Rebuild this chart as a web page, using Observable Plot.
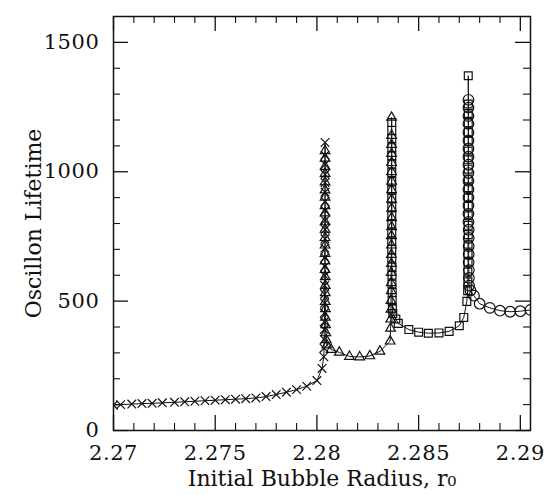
<!DOCTYPE html>
<html>
<head>
<meta charset="utf-8">
<script src="https://cdn.jsdelivr.net/npm/d3@7"></script>
<script src="https://cdn.jsdelivr.net/npm/@observablehq/plot@0.6"></script>
<style>
  html, body { margin: 0; padding: 0; background: #fff; }
  svg g[aria-label="x-title"] text { letter-spacing: 3.9px; }
  svg g[aria-label="y-title"] text { letter-spacing: 2.2px; }
  svg g[aria-label="x-axis tick label"] text,
  svg g[aria-label="y-axis tick label"] text { letter-spacing: 0.6px; }
</style>
</head>
<body>
<div id="chart"></div>
<script>
// Oscillon lifetime versus initial bubble radius r0.
// Four runs, each drawn with its own marker; one thin line joins all points in order.

// × run: below the first resonance
const crossR = [2.2700, 2.27035, 2.2709, 2.2714, 2.2719, 2.2724, 2.2730, 2.2735, 2.2740, 2.2745,
  2.2750, 2.2755, 2.2760, 2.2765, 2.2770, 2.2775, 2.2780, 2.2785, 2.2790, 2.2795,
  2.2800, 2.28025, 2.28034, 2.28035, 2.28036, 2.28036, 2.28037, 2.28037, 2.28038, 2.28038,
  2.28038, 2.28039, 2.28039, 2.28039, 2.28039, 2.2804, 2.2804, 2.2804, 2.2804, 2.2804,
  2.2804, 2.2804, 2.2804, 2.2804, 2.2804, 2.2804];
const crossLife = [98, 100, 102, 104, 105, 107, 109, 111, 113, 115,
  117, 119, 121, 123, 126, 131, 139, 148, 158, 171,
  193, 240, 285, 318, 352, 390, 421, 455, 492, 527,
  560, 598, 634, 668, 705, 741, 777, 812, 850, 885,
  921, 958, 990, 1028, 1064, 1113];

// △ run: between the first and second resonances
const triR = [2.2804, 2.2804, 2.2804, 2.2804, 2.2804, 2.2804, 2.2804, 2.2804, 2.2804, 2.2804,
  2.2804, 2.2804, 2.2804, 2.2804, 2.2804, 2.2804, 2.28041, 2.28041, 2.28041, 2.28041,
  2.28042, 2.28042, 2.28043, 2.28044, 2.28046, 2.28049, 2.2807, 2.2811, 2.2816, 2.2821,
  2.2826, 2.2831, 2.2836, 2.28362, 2.28363, 2.28364, 2.28364, 2.28365, 2.28365, 2.28365,
  2.28366, 2.28366, 2.28366, 2.28366, 2.28367, 2.28367, 2.28367, 2.28367, 2.28367, 2.28367,
  2.28367, 2.28367, 2.28367, 2.28367, 2.28367, 2.28367];
const triLife = [1081, 1052, 1020, 993, 960, 929, 901, 868, 840, 806,
  777, 745, 716, 684, 655, 622, 594, 560, 532, 498,
  470, 437, 408, 377, 350, 330, 313, 302, 286, 284,
  288, 306, 345, 395, 430, 468, 502, 540, 571, 610,
  645, 680, 716, 752, 787, 822, 858, 893, 930, 963,
  1000, 1035, 1070, 1105, 1140, 1210];

// □ run: between the second and third resonances
const sqR = [2.28368, 2.28368, 2.28368, 2.28368, 2.28368, 2.28368, 2.28368, 2.28368, 2.28368, 2.28368,
  2.28368, 2.28368, 2.28368, 2.28368, 2.28368, 2.28368, 2.28368, 2.28369, 2.28369, 2.28369,
  2.2837, 2.2837, 2.28371, 2.28373, 2.28388, 2.2840, 2.28452, 2.2850, 2.28548, 2.2860,
  2.2865, 2.2870, 2.28722, 2.28737, 2.28741, 2.28742, 2.28742, 2.28743, 2.28743, 2.28743,
  2.28744, 2.28744, 2.28744, 2.28744, 2.28744, 2.28744, 2.28744, 2.28744, 2.28744, 2.28744,
  2.28744, 2.28744, 2.28744, 2.28744, 2.28744, 2.28744];
const sqLife = [1190, 1160, 1128, 1093, 1062, 1030, 996, 962, 930, 897,
  864, 830, 798, 764, 732, 700, 666, 632, 600, 566,
  534, 502, 470, 452, 431, 414, 390, 380, 376, 377,
  383, 405, 437, 499, 540, 575, 612, 650, 684, 720,
  757, 793, 830, 866, 900, 938, 972, 1010, 1046, 1080,
  1118, 1152, 1190, 1225, 1262, 1371];

// ○ run: above the third resonance
const circR = [2.28745, 2.28745, 2.28745, 2.28745, 2.28745, 2.28745, 2.28745, 2.28745, 2.28745, 2.28745,
  2.28745, 2.28745, 2.28745, 2.28745, 2.28745, 2.28745, 2.28746, 2.28746, 2.28746, 2.28746,
  2.28746, 2.28747, 2.28747, 2.28748, 2.28755, 2.28772, 2.2880, 2.2885, 2.2890, 2.2895,
  2.2900, 2.2905];
const circLife = [1278, 1248, 1215, 1185, 1152, 1121, 1090, 1058, 1027, 995,
  965, 932, 901, 870, 838, 806, 776, 744, 712, 681,
  650, 620, 590, 560, 541, 521, 490, 474, 463, 459,
  461, 466];

// Axis ticks and their labels
const xTicks = [2.27, 2.275, 2.28, 2.285, 2.29];
const xTickLabels = ["2.27", "2.275", "2.28", "2.285", "2.29"];
const yTicks = [0, 500, 1000, 1500];
const yTickLabels = ["0", "500", "1000", "1500"];
const xMinor = d3.range(1, 21).map(i => 2.27 + i * 0.001).filter(v => Math.round(v * 1000) % 5 !== 0);
const yMinor = d3.range(100, 1600, 100).filter(v => v % 500 !== 0);

const toRows = (rs, ls, run) => rs.map((r, i) => ({r, life: ls[i], run}));
const crosses = toRows(crossR, crossLife, "x");
const triangles = toRows(triR, triLife, "t");
const squares = toRows(sqR, sqLife, "s");
const circles = toRows(circR, circLife, "c");
const all = [...crosses, ...triangles, ...squares, ...circles];

const width = 544, height = 495;
const mt = 16, mb = 65, ml = 113, mr = 14;
const innerW = width - ml - mr, innerH = height - mt - mb;
const majorLen = 15, minorLen = 7;

const ink = "#111";
const dotOpts = {x: "r", y: "life", fill: "none", stroke: ink, strokeWidth: 1.2, clip: true};

const chart = Plot.plot({
  width, height,
  marginTop: mt, marginBottom: mb, marginLeft: ml, marginRight: mr,
  style: {fontFamily: "'DejaVu Serif', serif", fontSize: "21px", color: ink, background: "#fff"},
  x: {domain: [2.27, 2.2905]},
  y: {domain: [0, 1600]},
  marks: [
    // inward ticks on all four sides
    Plot.tickX(xTicks, {x: d => d, insetTop: innerH - majorLen, stroke: ink, strokeWidth: 1.3}),
    Plot.tickX(xTicks, {x: d => d, insetBottom: innerH - majorLen, stroke: ink, strokeWidth: 1.3}),
    Plot.tickX(xMinor, {x: d => d, insetTop: innerH - minorLen, stroke: ink, strokeWidth: 1.1}),
    Plot.tickX(xMinor, {x: d => d, insetBottom: innerH - minorLen, stroke: ink, strokeWidth: 1.1}),
    Plot.tickY(yTicks, {y: d => d, insetRight: innerW - majorLen, stroke: ink, strokeWidth: 1.3}),
    Plot.tickY(yTicks, {y: d => d, insetLeft: innerW - majorLen, stroke: ink, strokeWidth: 1.3}),
    Plot.tickY(yMinor, {y: d => d, insetRight: innerW - minorLen, stroke: ink, strokeWidth: 1.1}),
    Plot.tickY(yMinor, {y: d => d, insetLeft: innerW - minorLen, stroke: ink, strokeWidth: 1.1}),
    Plot.axisX({ticks: xTicks, tickSize: 0, tickPadding: 15, label: null,
      tickFormat: d => xTickLabels[xTicks.indexOf(d)]}),
    Plot.axisY({ticks: yTicks, tickSize: 0, tickPadding: 14, label: null,
      tickFormat: d => yTickLabels[yTicks.indexOf(d)]}),
    // the connecting curve
    Plot.line(all, {x: "r", y: "life", stroke: ink, strokeWidth: 1, clip: true}),
    Plot.dot(crosses, {...dotOpts, symbol: "times", r: 4}),
    Plot.dot(triangles, {...dotOpts, symbol: "triangle2", r: 4.6}),
    Plot.dot(squares, {...dotOpts, symbol: "square2", r: 5}),
    Plot.dot(circles, {...dotOpts, symbol: "circle", r: 5.3}),
    Plot.frame({stroke: ink, strokeWidth: 1.5}),
    // axis titles
    Plot.text(["Initial Bubble Radius, r\u2080"], {ariaLabel: "x-title", frameAnchor: "bottom", dy: 55, fontSize: 22, fill: ink}),
    Plot.text(["Oscillon Lifetime"], {ariaLabel: "y-title", frameAnchor: "left", textAnchor: "middle", rotate: -90, dx: -80, fontSize: 22, fill: ink})
  ]
});

document.getElementById("chart").appendChild(chart);
</script>
</body>
</html>
